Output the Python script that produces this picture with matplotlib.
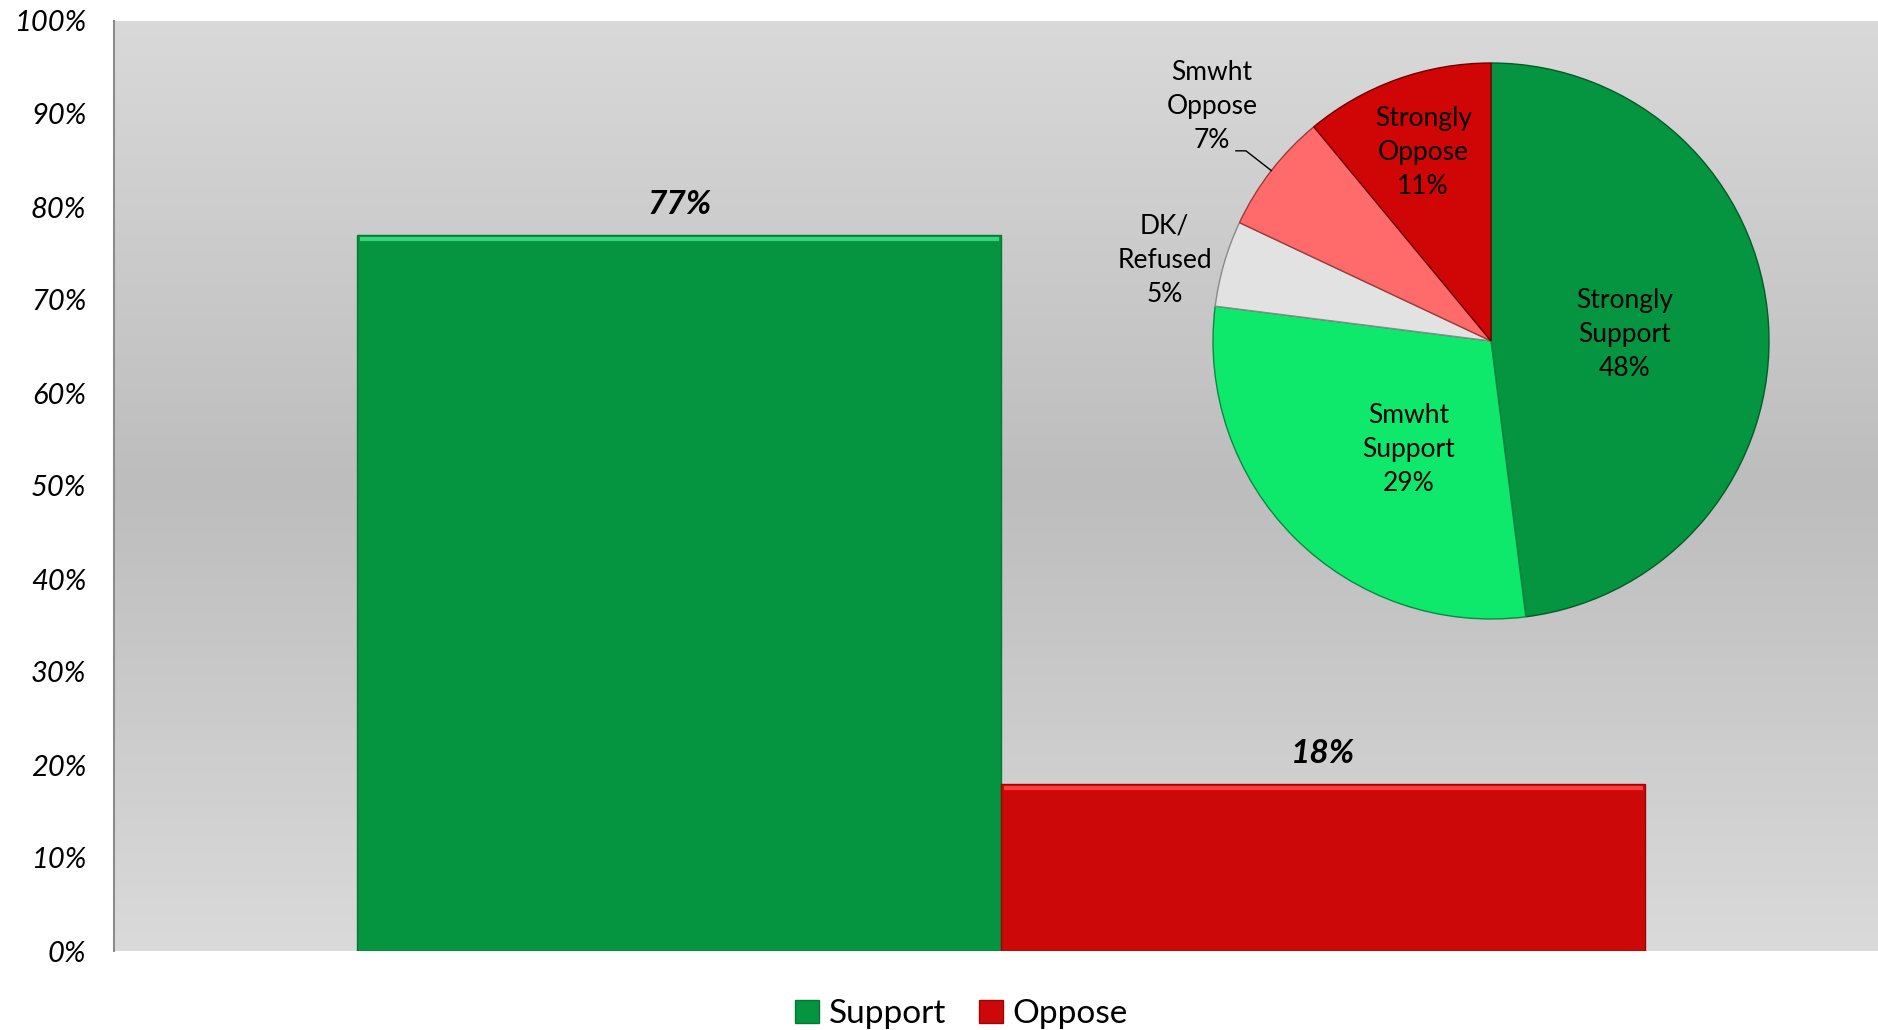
import matplotlib.pyplot as plt
from matplotlib.colors import LinearSegmentedColormap
import numpy as np

plt.rcParams['font.family'] = ['Lato', 'DejaVu Sans']

# overall support vs oppose
bar_labels = ['Support', 'Oppose']
bar_values = [77, 18]
bar_colors = ['#05943f', '#cc0808']
bar_edges = ['#037a33', '#9a0606']
bar_tops = ['#3ad47a', '#ff3b3b']

# breakdown, clockwise from 12 o'clock
pie_labels = ['Strongly\nSupport', 'Smwht\nSupport', 'DK/\nRefused', 'Smwht\nOppose', 'Strongly\nOppose']
pie_values = [48, 29, 5, 7, 11]
pie_colors = ['#05943f', '#0ee86b', '#e2e2e2', '#ff6b6b', '#d00505']
pie_edges = ['#035c27', '#0a8a40', '#8a8a8a', '#a03a3a', '#700000']
# label placement: distance from centre and angle tweak from wedge middle
label_dist = [0.48, 0.49, 1.21, 1.31, 0.72]
label_turn = [-1.0, 7.8, 2.3, -2.2, 0.0]

yticks = np.arange(0, 101, 10)

fig = plt.figure(figsize=(18.78, 10.30), dpi=100)
ax = fig.add_axes([114 / 1878, 79 / 1030, 1764 / 1878, 930 / 1030])

# vertical gray gradient behind the bars
grad = LinearSegmentedColormap.from_list('bg', ['#dadada', '#bdbdbd', '#d9d9d9'])
ax.imshow(np.linspace(0, 1, 256).reshape(-1, 1), cmap=grad, aspect='auto',
          extent=(-1.006, 0.994, 0, 100), origin='lower', zorder=0)

xs = [-0.365, 0.365]
ax.bar(xs, bar_values, width=0.73, color=bar_colors, zorder=2,
       edgecolor=bar_edges, linewidth=1.0)
for x, v, top in zip(xs, bar_values, bar_tops):
    # light bevel along the top edge
    ax.hlines(v - 0.45, x - 0.362, x + 0.362, color=top, lw=3, zorder=3)
    ax.text(x, v + 1.7, f'{v}%', ha='center', va='bottom', fontsize=24,
            fontweight='bold', fontstyle='italic', zorder=3)

ax.set_xlim(-1.006, 0.994)
ax.set_ylim(0, 100)
ax.set_xticks([])
ax.set_yticks(yticks)
ax.set_yticklabels([f'{t}%' for t in yticks], fontsize=21, fontstyle='italic')
ax.tick_params(axis='y', length=0, pad=20)
for s in ['top', 'right', 'bottom']:
    ax.spines[s].set_visible(False)
ax.spines['left'].set_color('#8c8c8c')
ax.spines['left'].set_linewidth(1.5)

# legend under the plot
handles = [plt.Rectangle((0, 0), 1, 1, facecolor=c, edgecolor=e) for c, e in zip(bar_colors, bar_edges)]
fig.legend(handles, bar_labels, loc='center', bbox_to_anchor=(0.512, 1 - 1014 / 1030),
           ncol=2, frameon=False, fontsize=24, handlelength=0.7, handleheight=0.7,
           handletextpad=0.3, columnspacing=1.0)

# pie inset
pax = fig.add_axes([(1491 - 278) / 1878, (1030 - 341 - 278) / 1030, 556 / 1878, 556 / 1030])
wedges, _ = pax.pie(pie_values, colors=pie_colors, startangle=90, counterclock=False,
                    radius=1.0, wedgeprops=dict(linewidth=1.0))
for w, ec in zip(wedges, pie_edges):
    w.set_edgecolor(ec)
pax.set_aspect('equal')
pax.set_xlim(-1, 1)
pax.set_ylim(-1, 1)
pax.axis('off')

for w, lab, val, d, turn in zip(wedges, pie_labels, pie_values, label_dist, label_turn):
    mid = np.deg2rad((w.theta1 + w.theta2) / 2)
    ang = mid + np.deg2rad(turn)
    x, y = d * np.cos(ang), d * np.sin(ang)
    pax.text(x, y, f'{lab}\n{val}%', ha='center', va='center', fontsize=19,
             linespacing=1.45, clip_on=False)
    if lab == 'Smwht\nOppose':
        ex, ey = np.cos(mid), np.sin(mid)
        pax.plot([x + 0.086, x + 0.122, ex], [y - 0.158, y - 0.158, ey],
                 color='black', lw=1.0, clip_on=False)

fig.savefig('out.png', dpi=100)
